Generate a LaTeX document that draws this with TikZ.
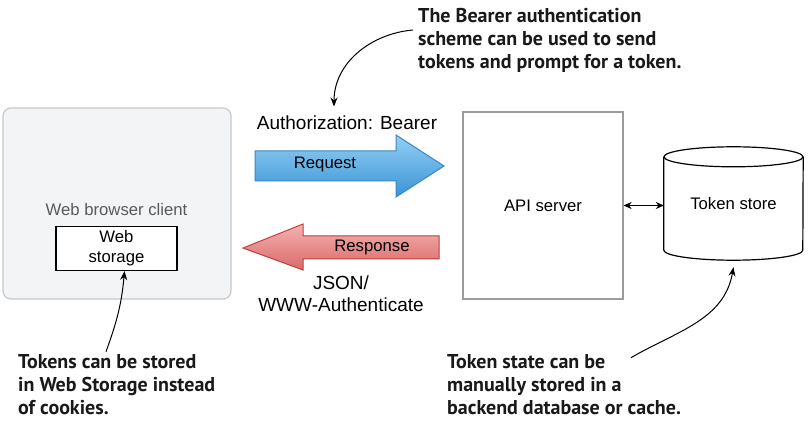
\documentclass[tikz,border=0pt]{standalone}
\usepackage{fontspec}
\setmainfont{Liberation Sans}
\newfontfamily\notefont{PT Sans}
\usetikzlibrary{positioning, arrows.meta}
\definecolor{clientfill}{HTML}{F3F4F6}
\definecolor{clientline}{HTML}{C6C9CD}
\definecolor{clienttext}{HTML}{5A5A5A}
\definecolor{serverline}{HTML}{9C9C9C}
\definecolor{reqtop}{HTML}{93D0F4}
\definecolor{reqbot}{HTML}{3A93D6}
\definecolor{reqline}{HTML}{3A86C6}
\definecolor{restop}{HTML}{F4B2B0}
\definecolor{resbot}{HTML}{D86A6A}
\definecolor{resline}{HTML}{C43C3C}
\tikzstyle{box} = [draw, rectangle, line width=1.2pt, align=center]
\tikzstyle{small} = [font=\fontsize{16.7}{19.5}\selectfont, align=center]
\tikzstyle{big} = [font=\fontsize{19}{22}\selectfont, align=center]
\tikzstyle{note} = [font=\notefont\bfseries\fontsize{20}{23}\selectfont, align=left, anchor=west, inner sep=0pt, text=black!90]
\tikzstyle{pointer} = [line width=1pt, ->, >={Stealth[length=9pt,width=7pt]}]

\begin{document}
\begin{tikzpicture}[x=1pt, y=1pt]
    \fill[white] (0,0) rectangle (809,-422);
    \useasboundingbox (0,0) rectangle (809,-422);

    % client side
    \node[box, draw=clientline, fill=clientfill, rounded corners=8pt, minimum width=228pt, minimum height=191pt] (client) at (117,-203.5) {};
    \node[small, text=clienttext] (clientname) at (116.5,-210) {Web browser client};
    \node[box, small, fill=white, line width=1.4pt, minimum width=121pt, minimum height=44pt, inner sep=1pt, below=6pt of clientname] (storage) {Web\\storage};

    % request and response
    \shade[top color=reqtop, bottom color=reqbot, draw=reqline, line width=1pt]
        (255,-151) -- (396,-151) -- (396,-135) -- (444,-166) -- (396,-197) -- (396,-181) -- (255,-181) -- cycle;
    \node[small] (request) at (325,-164) {Request};
    \shade[top color=restop, bottom color=resbot, draw=resline, line width=1pt]
        (243,-248) -- (303,-224) -- (303,-236) -- (439,-236) -- (439,-259) -- (303,-259) -- (303,-270) -- cycle;
    \node[small] (response) at (372,-247) {Response};
    \node[big] (authheader) at (347,-123) {Authorization: Bearer};
    \node[big] (body) at (341,-294) {JSON/\\WWW-Authenticate};

    % server side
    \node[box, small, draw=serverline, minimum width=160pt, minimum height=187pt] (api) at (543,-205.5) {API server};
    \node[small, minimum width=139pt, minimum height=113pt] (store) at (733.5,-203.5) {Token store};
    \draw[line width=1.2pt] ([yshift=-10pt]store.north west) -- ([yshift=10pt]store.south west)
        arc[start angle=180, end angle=360, x radius=69.5pt, y radius=10pt] -- ([yshift=-10pt]store.north east);
    \draw[line width=1.2pt] ([yshift=-10pt]store.north) ellipse [x radius=69.5pt, y radius=10pt];
    \draw[line width=1.2pt, <->, >={Stealth[length=8pt,width=7pt]}] (api.east) -- (api.east -| store.west);

    % notes
    \node[note] (bearernote) at (418,-40) {The Bearer authentication\\scheme can be used to send\\tokens and prompt for a token.};
    \draw[pointer] ([xshift=-5pt, yshift=10pt]bearernote.west) to[out=185, in=90] ([xshift=-13pt, yshift=6pt]authheader.north);

    \node[note] (storagenote) at (18,-385) {Tokens can be stored\\in Web Storage instead\\of cookies.};
    \draw[pointer] ([xshift=88pt, yshift=3pt]storagenote.north west) to[out=70, in=-95] ([xshift=8pt]storage.south);

    \node[note] (storenote) at (447,-385) {Token state can be\\manually stored in a\\backend database or cache.};
    \draw[pointer] ([xshift=184pt, yshift=-3pt]storenote.north west) to[out=30, in=-100] ([yshift=-7pt]store.south);
\end{tikzpicture}
\end{document}
